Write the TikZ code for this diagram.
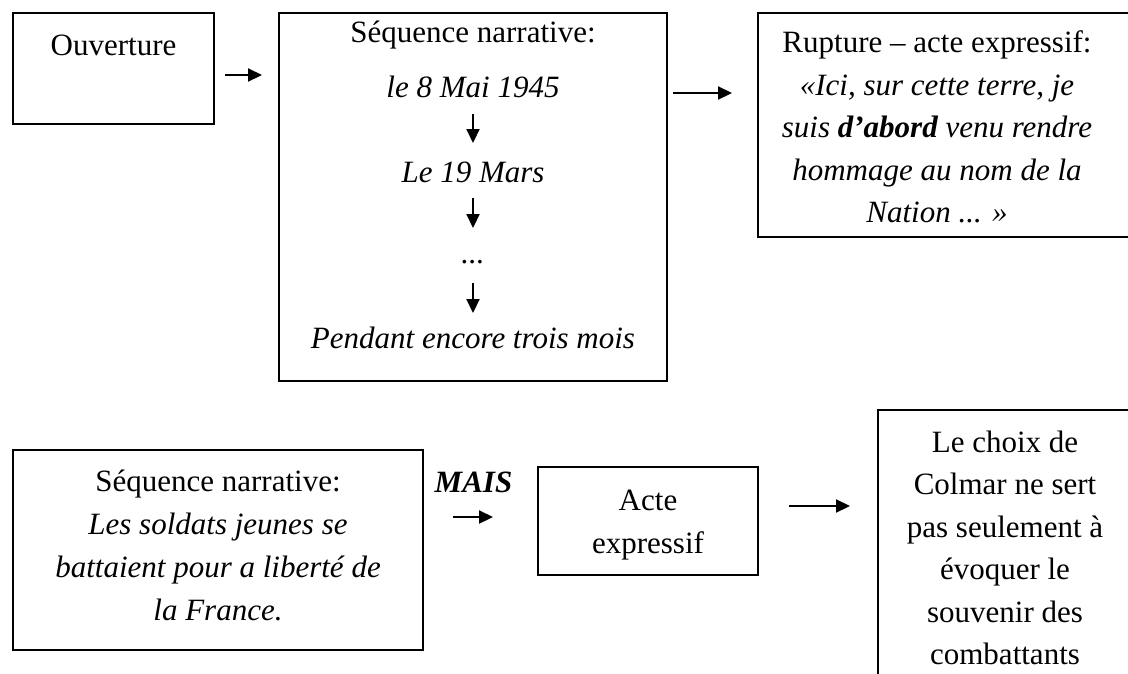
\documentclass[tikz,border=0pt]{standalone}
\usepackage{fontspec}
\setmainfont{Liberation Serif}
\usetikzlibrary{arrows.meta}
\begin{document}
\begin{tikzpicture}[x=1pt,y=-1pt,
  box/.style={draw, line width=1.8pt, inner sep=0pt},
  txt/.style={font=\fontsize{31}{42.5}\selectfont, anchor=base, inner sep=0pt},
  arr/.style={line width=2.2pt, -{Triangle[length=14pt,width=13pt]}}]
\useasboundingbox (0,0) rectangle (1128,673);
% boxes
\node[box, minimum width=201pt, minimum height=111pt] (b1) at (113.5,68.5) {};
\node[box, minimum width=388pt, minimum height=368pt] (b2) at (473,197) {};
\node[box, minimum width=382pt, minimum height=224pt] (b3) at (949,125) {};
\node[box, minimum width=410pt, minimum height=200pt] (b4) at (218,550) {};
\node[box, minimum width=220pt, minimum height=108pt] (b5) at (648,521) {};
\node[box, minimum width=262pt, minimum height=290pt] (b6) at (1009,555) {};
% box 1
\node[txt] (t1) at (113.5,55) {Ouverture};
% box 2
\node[txt] (s1) at (473,42) {Séquence narrative:};
\node[txt] (s2) at (473,97) {\itshape le 8 Mai 1945};
\node[txt] (s3) at (473,182) {\itshape Le 19 Mars};
\node[txt] (s4) at (473,263) {\itshape ...};
\node[txt] (s5) at (473,348) {\itshape Pendant encore trois mois};
\coordinate (d1s) at (473,114); \coordinate (d1e) at (473,143);
\coordinate (d2s) at (473,198); \coordinate (d2e) at (473,228);
\coordinate (d3s) at (473,283); \coordinate (d3e) at (473,313);
\draw[arr] (d1s) -- (d1e);
\draw[arr] (d2s) -- (d2e);
\draw[arr] (d3s) -- (d3e);
% box 3
\node[txt] (r1) at (937,52) {Rupture – acte expressif:};
\node[txt] (r2) at (937,95) {\itshape «Ici, sur cette terre, je};
\node[txt] (r3) at (937,137) {\itshape suis \textbf{d’abord} venu rendre};
\node[txt] (r4) at (937,180) {\itshape hommage au nom de la};
\node[txt] (r5) at (937,222) {\itshape Nation ... »};
% box 4
\node[txt] (n1) at (218,491) {Séquence narrative:};
\node[txt] (n2) at (218,534) {\itshape Les soldats jeunes se};
\node[txt] (n3) at (218,577) {\itshape battaient pour a liberté de};
\node[txt] (n4) at (218,620) {\itshape la France.};
% MAIS
\node[txt] (mais) at (473.5,492) {\bfseries\itshape MAIS};
% box 5
\node[txt] (e1) at (648,510) {Acte};
\node[txt] (e2) at (648,553) {expressif};
% box 6
\node[txt] (c1) at (1005,452) {Le choix de};
\node[txt] (c2) at (1005,494) {Colmar ne sert};
\node[txt] (c3) at (1005,537) {pas seulement à};
\node[txt] (c4) at (1005,579) {évoquer le};
\node[txt] (c5) at (1005,622) {souvenir des};
\node[txt] (c6) at (1005,664) {combattants};
% horizontal arrows
\coordinate (h1s) at (225,75);  \coordinate (h1e) at (262,75);
\coordinate (h2s) at (673,93);  \coordinate (h2e) at (732,93);
\coordinate (h3s) at (453,517); \coordinate (h3e) at (493,517);
\coordinate (h4s) at (789,506); \coordinate (h4e) at (850,506);
\draw[arr] (h1s) -- (h1e);
\draw[arr] (h2s) -- (h2e);
\draw[arr] (h3s) -- (h3e);
\draw[arr] (h4s) -- (h4e);
\end{tikzpicture}
\end{document}
